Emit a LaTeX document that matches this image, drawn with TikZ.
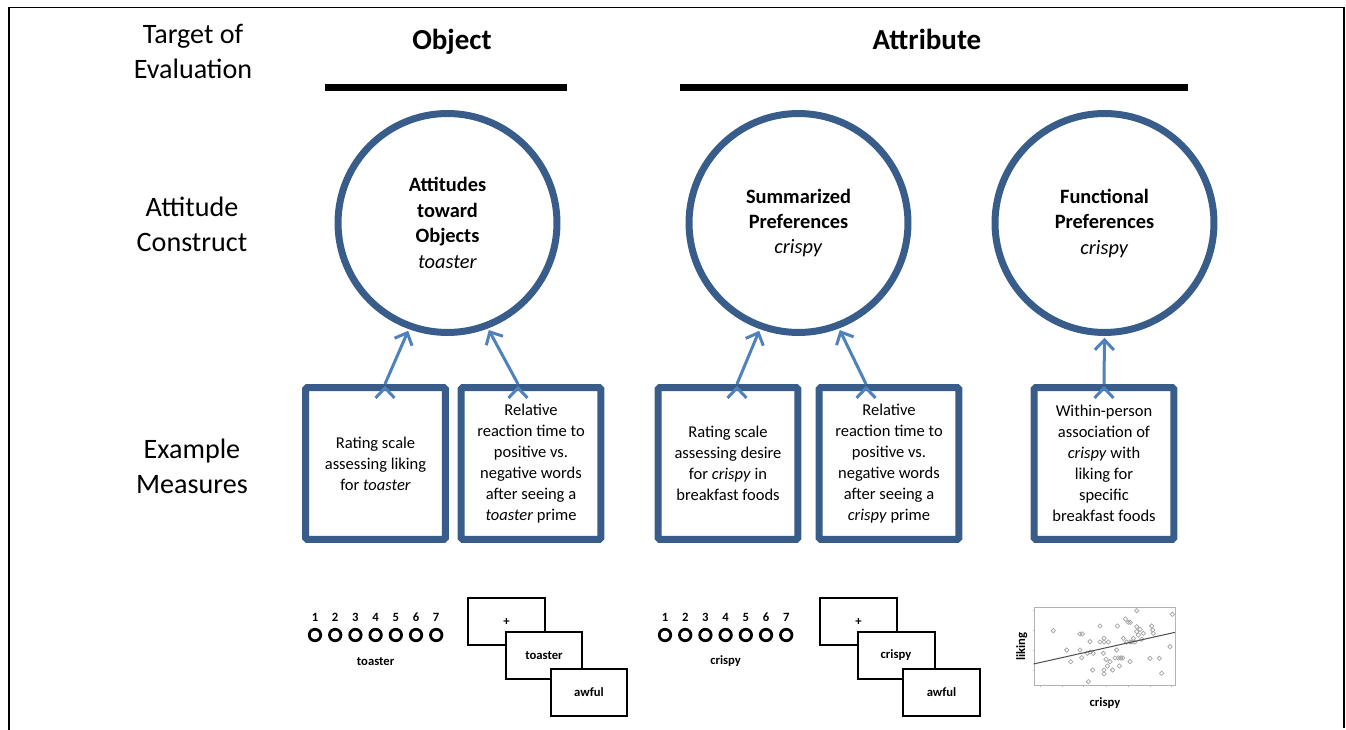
\documentclass[tikz,border=0pt]{standalone}
\usepackage{fontspec}
\setmainfont{Carlito}
\usetikzlibrary{arrows.meta,positioning}
\definecolor{ringblue}{RGB}{56,93,138}
\definecolor{arrowblue}{RGB}{79,129,189}

\begin{document}
\begin{tikzpicture}[
            x = 0.02cm, y = -0.02cm, % one unit = one pixel of the figure
            > = {Straight Barb[length=0.2cm,width=0.38cm]}, % arrow head style
            shorten > = 1pt,
            construct/.style = {shape=circle, draw=ringblue, line width=0.14cm, minimum size=4.38cm, align=center, font=\fontsize{11.6}{14.5}\selectfont},
            measure/.style = {shape=rectangle, draw=ringblue, fill=white, line width=0.14cm, rounded corners=1pt, minimum width=2.8cm, minimum height=3.04cm, align=center, font=\fontsize{9.4}{11.95}\selectfont},
            rowlabel/.style = {align=center, font=\fontsize{16}{19.9}\selectfont},
            target/.style = {anchor=base, font=\fontsize{16.5}{20}\selectfont\bfseries},
            link/.style = {->, draw=arrowblue, line width=0.06cm},
            dot/.style = {shape=circle, draw=black, line width=0.055cm, minimum size=0.23cm, inner sep=0pt},
            small/.style = {inner sep=0pt, font=\fontsize{7.2}{8.6}\selectfont\bfseries},
            screen/.style = {shape=rectangle, draw=black, fill=white, line width=0.04cm, minimum width=1.54cm, minimum height=0.94cm, inner sep=0pt, font=\fontsize{7.2}{8.6}\selectfont\bfseries}
        ]
\useasboundingbox (0,0) rectangle (1346,730);

% frame
\draw[line width=0.04cm] (9,730) -- (9,7.5) -- (1344,7.5) -- (1344,730);

% row labels
\node[rowlabel] (TE) at (193,51) {Target of\\Evaluation};
\node[rowlabel] (AC) at (192,224) {Attitude\\Construct};
\node[rowlabel] (EM) at (192,466) {Example\\Measures};

\node[target] (Ob) at (452,50) {Object};
\node[target] (At) at (927,50) {Attribute};
\draw[line width=0.14cm] (325,87.5) -- (569,87.5);
\draw[line width=0.14cm] (680,87.5) -- (1190,87.5);

% constructs
\node[construct] (AO) at (447.5,223) {\textbf{Attitudes}\\\textbf{toward}\\\textbf{Objects}\\\textit{toaster}};
\node[construct] (SP) at (798.5,223) {\textbf{Summarized}\\\textbf{Preferences}\\\textit{crispy}};
\node[construct] (FP) at (1104.5,223) {\textbf{Functional}\\\textbf{Preferences}\\\textit{crispy}};

% measures
\node[measure] (M1) at (375.5,463.5) {Rating scale\\assessing liking\\for \textit{toaster}};
\node[measure] (M2) at (531,463.5) {Relative\\reaction time to\\positive vs.\\negative words\\after seeing a\\\textit{toaster} prime};
\node[measure] (M3) at (728,463.5) {Rating scale\\assessing desire\\for \textit{crispy} in\\breakfast foods};
\node[measure] (M4) at (889,463.5) {Relative\\reaction time to\\positive vs.\\negative words\\after seeing a\\\textit{crispy} prime};
\node[measure] (M5) at (1104,463.5) {Within-person\\association of\\\textit{crispy} with\\liking for\\specific\\breakfast foods};

\path [link] ([xshift=0.19cm]M1.north) edge (AO.250);
\path [link] ([xshift=-0.26cm]M2.north) edge (AO.291);
\path [link] ([xshift=0.18cm]M3.north) edge (SP.250);
\path [link] ([xshift=-0.46cm]M4.north) edge (SP.291);
\path [link] (M5.north) edge (FP.south);

% rating scales
\foreach \i in {1,...,7} {
    \node[dot] (t\i) at ({315+20.2*(\i-1)},635) {};
    \node[small, above=0.12cm of t\i] {\i};
    \node[dot] (c\i) at ({665+20.2*(\i-1)},635) {};
    \node[small, above=0.12cm of c\i] {\i};
}
\node[small, below=0.3cm of t4] (tl) {toaster};
\node[small, below=0.26cm of c4] (cl) {crispy};

% priming screens
\node[screen] (T1) at (506.5,621.5) {+};
\node[screen] (T2) at (544,655.5) {toaster};
\node[screen] (T3) at (589,692) {awful};
\node[screen] (C1) at (858.5,621.5) {+};
\node[screen] (C2) at (896,655.5) {crispy};
\node[screen] (C3) at (941.5,692) {awful};

% scatter plot
\node[shape=rectangle, draw=gray!60, line width=0.02cm, minimum width=2.84cm, minimum height=1.58cm, inner sep=0pt] (P) at (1105,646.5) {};
\node[small, rotate=90, left=0.12cm of P, anchor=south] (ly) {liking};
\node[small, below=0.22cm of P] (lx) {crispy};
\foreach \a in {1040,1062.3,1083.3,1106,1128.3,1150,1171.7}
    \draw[gray!50, line width=0.02cm] (\a,686) -- (\a,688.5);
\foreach \b in {610,630,650,670}
    \draw[gray!50, line width=0.02cm] (1034,\b) -- (1031.5,\b);
\foreach \a/\b in {160/122,200/180,212/215,240/132,247/132,245/203,240/180,270/155,262/190,270/186,280/190,
                   278/240,265/275,300/108,300/156,312/145,312/156,325/156,310/190,318/208,312/240,312/252,
                   322/228,330/215,338/240,345/204,350/180,352/108,355/204,362/204,358/228,368/204,370/145,
                   376/87,385/97,391/97,380/156,390/156,396/156,400/145,405/156,390/215,410/62,410/110,410/125,
                   415/135,420/118,425/148,430/130,450/205,455/108,458/120,460/130,478/205,485/250,510/170,517/73}
    \draw[gray!70, line width=0.015cm] ({1000+\a/3},{590+\b/3}) +(0,-2.2) -- +(2.2,0) -- +(0,2.2) -- +(-2.2,0) -- cycle;
\draw[gray!60!black, line width=0.02cm] (P.west |- 0,664) -- (P.east |- 0,632);
\end{tikzpicture}
\end{document}
